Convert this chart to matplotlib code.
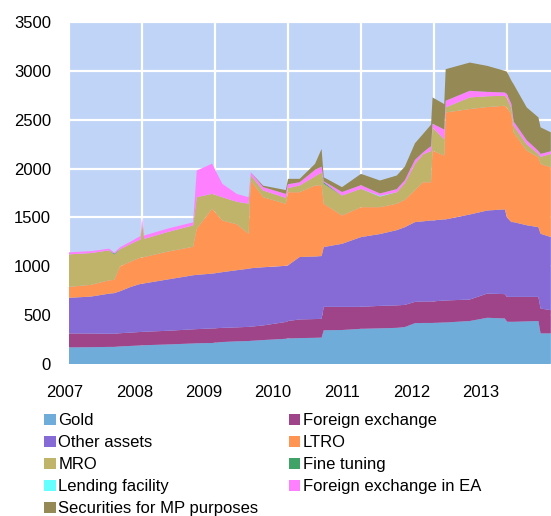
import numpy as np
import matplotlib.pyplot as plt
from matplotlib.patches import Patch

plt.rcParams['font.family'] = ['Liberation Sans', 'DejaVu Sans']

# time in decimal years, values in EUR bn
t = [2007.00, 2007.30, 2007.55, 2007.62, 2007.70, 2007.85, 2007.98, 2008.00, 2008.03,
     2008.35, 2008.70, 2008.75, 2008.96, 2009.10, 2009.30, 2009.46, 2009.49, 2009.66,
     2009.97, 2010.00, 2010.16, 2010.37, 2010.46, 2010.49, 2010.74, 2011.00, 2011.26,
     2011.49, 2011.60, 2011.74, 2011.85, 2011.96, 2011.98, 2012.14, 2012.16, 2012.49,
     2012.73, 2012.97, 2013.00, 2013.06, 2013.09, 2013.27, 2013.43, 2013.46, 2013.60]

gold = [170, 172, 175, 175, 180, 185, 190, 190, 192, 200, 210, 212, 215, 225, 232,
        235, 237, 245, 258, 262, 265, 268, 270, 345, 348, 360, 365, 370, 378, 418,
        420, 420, 420, 425, 425, 440, 473, 466, 432, 432, 432, 436, 440, 313, 313]
fx = [143, 140, 135, 135, 135, 137, 138, 138, 138, 140, 145, 145, 149, 145, 143,
      145, 145, 150, 172, 178, 191, 192, 192, 240, 237, 225, 230, 230, 227, 218,
      220, 220, 220, 225, 225, 220, 248, 249, 255, 255, 255, 251, 247, 255, 238]
other = [364, 378, 410, 415, 430, 468, 492, 492, 495, 525, 553, 555, 561, 570, 585,
         595, 598, 595, 575, 570, 639, 640, 643, 612, 645, 714, 735, 770, 795, 816,
         820, 829, 829, 830, 830, 870, 850, 867, 813, 765, 765, 733, 713, 765, 748]
ltro = [112, 120, 137, 135, 255, 260, 270, 270, 270, 285, 292, 472, 664, 529, 470,
        358, 898, 717, 635, 748, 663, 727, 725, 443, 290, 306, 275, 270, 280, 328,
        400, 391, 715, 653, 1094, 1079, 1059, 1061, 1120, 1106, 919, 764, 716, 715, 715]
mro = [333, 325, 306, 260, 175, 180, 185, 360, 185, 200, 218, 323, 152, 238, 230,
       307, 52, 68, 60, 42, 69, 93, 130, 204, 204, 188, 109, 118, 170, 270,
       286, 320, 237, 167, 52, 119, 110, 102, 100, 62, 68, 66, 34, 72, 136]
fine_tuning = [0, 0, 0, 10, 0, 0, 0, 0, 0, 0, 0, 0, 0, 0, 0,
               0, 0, 0, 0, 0, 0, 0, 0, 15, 0, 0, 0, 0, 0, 0,
               0, 0, 0, 0, 0, 0, 0, 0, 0, 0, 0, 0, 0, 0, 0]
lending = [0, 0, 0, 0, 0, 0, 0, 0, 0, 0, 0, 0, 0, 0, 0,
           0, 0, 0, 0, 0, 0, 0, 0, 0, 0, 0, 6, 0, 0, 0,
           0, 0, 0, 0, 0, 0, 0, 0, 0, 0, 0, 0, 0, 0, 0]
fx_ea = [21, 20, 17, 10, 20, 25, 35, 50, 35, 35, 32, 273, 309, 137, 80,
         67, 32, 35, 41, 40, 33, 67, 60, 11, 36, 37, 25, 32, 30, 40,
         20, 50, 38, 100, 68, 68, 45, 34, 40, 40, 44, 40, 30, 30, 27]
smp = [0, 0, 0, 0, 0, 0, 0, 0, 0, 0, 0, 0, 0, 0, 0,
       0, 0, 15, 39, 55, 35, 61, 181, 41, 50, 116, 133, 139, 140, 170,
       188, 220, 269, 260, 323, 289, 266, 221, 230, 240, 381, 336, 344, 272, 194]

labels = ['Gold', 'Foreign exchange', 'Other assets', 'LTRO', 'MRO', 'Fine tuning',
          'Lending facility', 'Foreign exchange in EA', 'Securities for MP purposes']
colors = ['#6FACD9', '#A0448A', '#866BD6', '#FF9453', '#C0B36A', '#3FA367',
          '#66FFFF', '#FF80FF', '#958A55']
years = [2007, 2008, 2009, 2010, 2011, 2012, 2013]

fig = plt.figure(figsize=(5.51, 5.16), dpi=100)
ax = fig.add_axes([69 / 551, 152 / 516, 482 / 551, 342 / 516])
ax.set_facecolor('#C0D4F8')

ax.stackplot(t, gold, fx, other, ltro, mro, fine_tuning, lending, fx_ea, smp,
             colors=colors, linewidth=0)

ax.set_xlim(2007, 2007 + 482 / 73)
ax.set_ylim(0, 3500)
ax.set_yticks(np.arange(0, 3501, 500))
ax.set_xticks(years)
ax.set_xticklabels([])
ax.grid(True, color='white', linewidth=1.6)
ax.set_axisbelow(True)
ax.tick_params(axis='both', length=0, labelsize=12)
ax.tick_params(axis='y', pad=13)
for s in ax.spines.values():
    s.set_visible(False)

# year labels sit a bit left of the gridlines, evenly spaced
for i, yr in enumerate(years):
    xpos = 2007 + (i * 69.3 - 4) / 73
    ax.text(xpos, -0.082, str(yr), transform=ax.get_xaxis_transform(),
            ha='center', va='center', fontsize=12, clip_on=False)

order = [0, 2, 4, 6, 8, 1, 3, 5, 7]
handles = [Patch(facecolor=colors[i], edgecolor='none', label=labels[i]) for i in order]
fig.legend(handles=handles, loc='upper left', bbox_to_anchor=(36 / 551, 1 - 405 / 516),
           ncol=2, frameon=False, fontsize=12, borderpad=0, handlelength=0.7,
           handleheight=0.7, handletextpad=0.15, labelspacing=0.42, columnspacing=1.8)

fig.savefig('out.png', dpi=100)
